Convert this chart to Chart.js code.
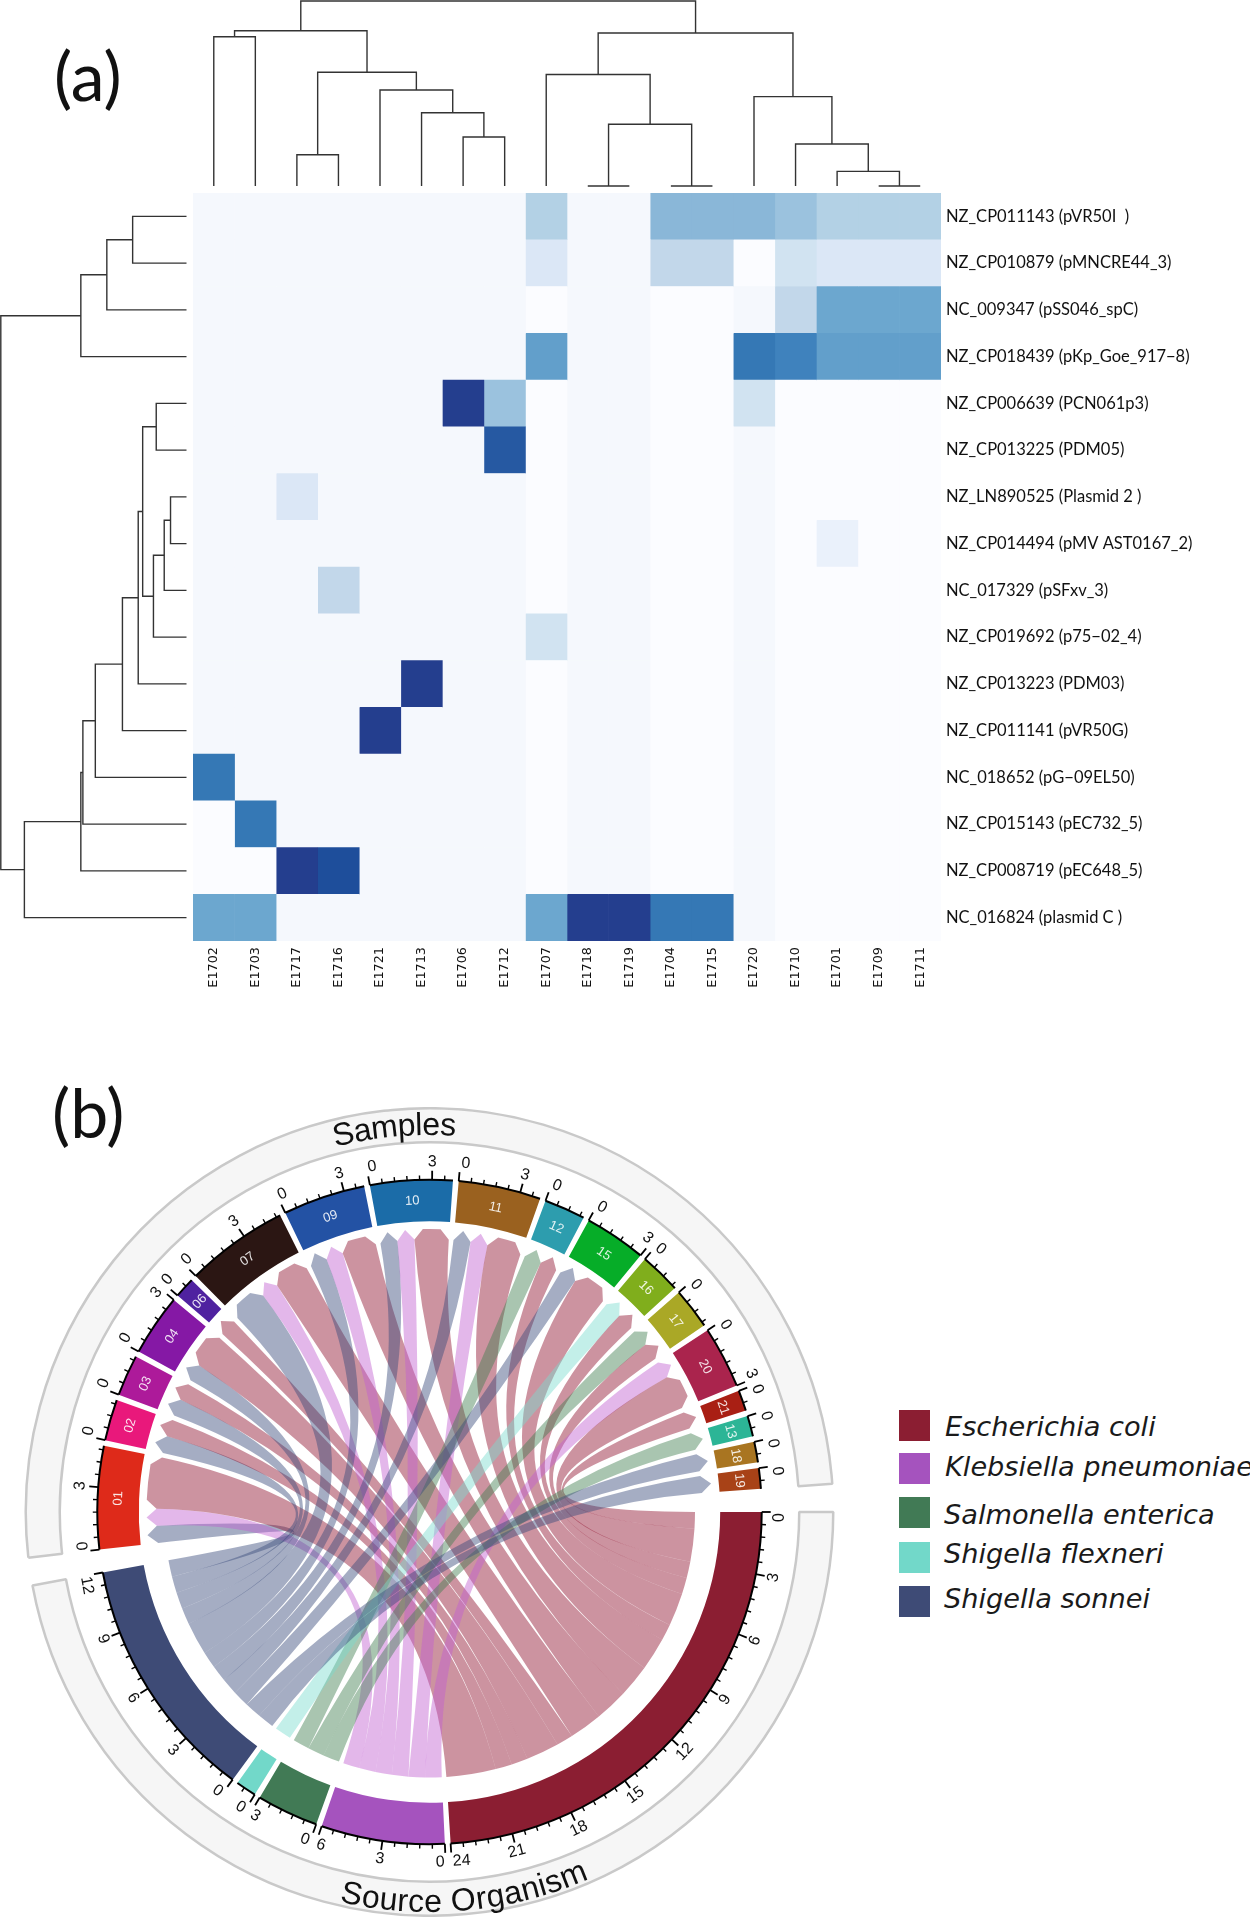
<!DOCTYPE html>
<html>
<head>
<meta charset="utf-8">
<title>Plasmid heatmap and chord diagram</title>
<script src="https://cdn.jsdelivr.net/npm/chart.js@4"></script>
<style>
  html, body { margin: 0; padding: 0; background: #fff; }
  body { position: relative; width: 1250px; height: 1918px; overflow: hidden; }
  canvas { position: absolute; }
  .panel { position: absolute; font-family: Lato, sans-serif; font-size: 68px; line-height: 80px; color: #111; }
  .swatch { position: absolute; left: 899px; width: 31px; height: 31px; }
  .species { position: absolute; font-family: "DejaVu Sans", sans-serif; font-style: italic; font-size: 27.2px; line-height: 30px; color: #1a1a1a; white-space: nowrap; }
</style>
</head>
<body>
<div class="panel" style="left:54px;top:35px">(a)</div>
<div class="panel" style="left:52px;top:1072px">(b)</div>

<canvas id="topTree" width="748" height="188" style="left:193px;top:0"></canvas>
<canvas id="leftTree" width="188" height="748" style="left:0;top:193px"></canvas>
<canvas id="heat" width="1057" height="808" style="left:193px;top:193px"></canvas>
<canvas id="chord" width="859" height="810" style="left:0;top:1107px"></canvas>

<script>
// ---- panel (a) data ----
const columns = ["E1702","E1703","E1717","E1716","E1721","E1713","E1706","E1712","E1707","E1718","E1719","E1704","E1715","E1720","E1710","E1701","E1709","E1711"];
const rows = [
  "NZ_CP011143 (pVR50I  )", "NZ_CP010879 (pMNCRE44_3)", "NC_009347 (pSS046_spC)", "NZ_CP018439 (pKp_Goe_917−8)",
  "NZ_CP006639 (PCN061p3)", "NZ_CP013225 (PDM05)", "NZ_LN890525 (Plasmid 2 )", "NZ_CP014494 (pMV AST0167_2)",
  "NC_017329 (pSFxv_3)", "NZ_CP019692 (p75−02_4)", "NZ_CP013223 (PDM03)", "NZ_CP011141 (pVR50G)",
  "NC_018652 (pG−09EL50)", "NZ_CP015143 (pEC732_5)", "NZ_CP008719 (pEC648_5)", "NC_016824 (plasmid C )"
];
// one line per row, colour level
const heatValues = [
  [1,1,1,1,1,1,1,1,6,1,1,8,8,8,7,6,6,6],
  [1,1,1,1,1,1,1,1,3,1,1,5,5,0,4,3,3,3],
  [1,1,1,1,1,1,1,1,0,1,1,0,0,1,5,9,9,9],
  [1,1,1,1,1,1,1,1,10,1,1,0,0,12,11,10,10,10],
  [1,1,1,1,1,1,15,7,0,1,1,0,0,4,0,0,0,0],
  [1,1,1,1,1,1,1,13,0,1,1,0,0,1,0,0,0,0],
  [1,1,3,1,1,1,1,1,0,1,1,0,0,1,0,0,0,0],
  [1,1,1,1,1,1,1,1,0,1,1,0,0,1,0,2,0,0],
  [1,1,1,5,1,1,1,1,0,1,1,0,0,1,0,0,0,0],
  [1,1,1,1,1,1,1,1,4,1,1,0,0,1,0,0,0,0],
  [1,1,1,1,1,15,1,1,0,1,1,0,0,1,0,0,0,0],
  [1,1,1,1,15,1,1,1,0,1,1,0,0,1,0,0,0,0],
  [12,1,1,1,1,1,1,1,0,1,1,0,0,1,0,0,0,0],
  [0,12,1,1,1,1,1,1,0,1,1,0,0,1,0,0,0,0],
  [0,0,15,14,1,1,1,1,0,1,1,0,0,1,0,0,0,0],
  [9,9,1,1,1,1,1,1,9,15,15,12,12,1,0,0,0,0]
];
const heatPalette = ["#fbfcff","#f5f8fd","#eaf1fb","#dbe7f6","#d1e3f1","#c2d7ea","#b3d1e5","#9bc2de","#8ab7d8","#6ca7cf","#629fcb","#3f82bd","#3578b5","#2659a2","#1e4e9b","#243e8e"];

// merges as [child, child, height]; children below the leaf count are leaves,
// the others refer to an earlier merge
const topMerges = [
  [6,7,.265],[5,18,.396],[4,19,.519],[2,3,.169],[21,20,.615],[0,1,.807],[23,22,.839],
  [9,10,0],[11,12,0],[25,26,.334],[8,27,.603],[16,17,0],[15,29,.079],[14,30,.227],[13,31,.483],
  [28,32,.827],[24,33,1]
];
const leftMerges = [
  [0,1,.29],[16,2,.429],[17,3,.569],[4,5,.163],[6,7,.086],[20,8,.12],[21,9,.178],[19,22,.236],
  [23,10,.26],[24,11,.345],[25,12,.491],[26,13,.558],[27,14,.569],[28,15,.873],[18,29,1]
];

// ---- panel (b) data ----
const sourceNames = ["Escherichia coli","Klebsiella pneumoniae","Salmonella enterica","Shigella flexneri","Shigella sonnei"];
const sourceTotals = [24,6,3,1,12];
const sourceColors = ["#8b1e32","#a553be","#417a55","#72d8c9","#3e4b76"];
const ribbonColors = ["rgba(142,15,44,.45)","rgba(193,95,208,.45)","rgba(64,126,79,.45)","rgba(122,219,206,.45)","rgba(59,77,125,.46)"];

const sampleNames = ["01","02","03","04","06","07","09","10","11","12","15","16","17","20","21","13","18","19"];
const sampleTotals = [5,2,2,3,1,5,4,4,4,2,3,2,2,3,1,1,1,1];
const sampleColors = ["#de2a1a","#e9187b","#ad1a9a","#8518a5","#4f22a0","#2b1613","#2352a4","#1b6ca8","#9a611f","#2d9dae","#06ad28","#80ae1c","#aaa826","#aa244d","#a91f14","#2cb596","#a97521","#a84217"];

// in sample order, clockwise inside each sample
const linkSamples = ["01","01","01","02","02","03","03","04","04","06","07","07","07","09","09","09","10","10","10","11","11","11","12","12","15","15","16","16","17","17","20","20","21","13","18","19"];
const linkSources = [4,1,0,4,0,4,0,4,0,0,4,1,0,4,1,0,4,1,0,4,1,0,2,0,4,0,3,0,2,0,1,0,0,2,4,4];
const linkCounts  = [1,1,3,1,1,1,1,1,2,1,2,1,2,1,1,2,1,1,2,1,1,2,1,1,1,2,1,1,1,1,1,2,1,1,1,1];

const groupTitles = ["Source Organism","Samples"];
const legendBaselines = [1436,1476,1524,1563,1608];

const smallGap = 1 / 3.6;
const bigGap = 4 / 3.6;

// ---- legend ----
sourceNames.forEach((name, i) => {
  const box = document.createElement("div");
  box.className = "swatch";
  box.style.top = (1409.5 + [0,43.7,87.7,132.3,176.5][i]) + "px";
  box.style.background = sourceColors[i];
  document.body.appendChild(box);
  const label = document.createElement("div");
  label.className = "species";
  label.style.left = (i < 2 ? 945 : 944) + "px";
  label.style.top = (legendBaselines[i] - 24.5) + "px";
  label.textContent = name;
  document.body.appendChild(label);
});

// ---- dendrograms ----
function treeSegments(merges, leafCount) {
  const pos = [], height = [];
  for (let i = 0; i < leafCount; i++) { pos[i] = i + .5; height[i] = 0; }
  return merges.map((m, k) => {
    const [a, b, h] = m;
    const id = leafCount + k;
    pos[id] = (pos[a] + pos[b]) / 2;
    height[id] = h;
    return [[pos[a], height[a]], [pos[a], h], [pos[b], h], [pos[b], height[b]]];
  });
}

function treeChart(id, segments, swap, axes) {
  return new Chart(document.getElementById(id), {
    type: "scatter",
    data: {
      datasets: segments.map(seg => ({
        data: seg.map(p => swap ? {x: p[1], y: p[0]} : {x: p[0], y: p[1]}),
        showLine: true,
        clip: false,
        tension: 0,
        pointRadius: 0,
        borderWidth: 1.4,
        borderColor: "#333333"
      }))
    },
    options: {
      responsive: false,
      animation: false,
      events: [],
      layout: {padding: 0},
      plugins: {legend: {display: false}, tooltip: {enabled: false}},
      scales: axes
    }
  });
}

treeChart("topTree", treeSegments(topMerges, columns.length), false, {
  x: {type: "linear", display: false, min: 0, max: columns.length},
  y: {type: "linear", display: false, min: -2 / 185, max: 186 / 185}
});
treeChart("leftTree", treeSegments(leftMerges, rows.length), true, {
  x: {type: "linear", display: false, reverse: true, min: -1.5 / 185.7, max: 186.5 / 185.7},
  y: {type: "linear", display: false, reverse: true, min: 0, max: rows.length}
});

// ---- heatmap: stacked horizontal bars, one dataset per column ----
function noAxisPadding(s) {
  s.paddingTop = 0; s.paddingBottom = 0; s.paddingLeft = 0; s.paddingRight = 0;
}

new Chart(document.getElementById("heat"), {
  type: "bar",
  data: {
    labels: rows,
    datasets: columns.map((c, col) => ({
      label: c,
      data: rows.map(() => 1),
      backgroundColor: rows.map((r, row) => heatPalette[heatValues[row][col]]),
      borderWidth: 0,
      barPercentage: 1,
      categoryPercentage: 1
    }))
  },
  options: {
    indexAxis: "y",
    responsive: false,
    animation: false,
    events: [],
    layout: {padding: 0},
    plugins: {legend: {display: false}, tooltip: {enabled: false}},
    scales: {
      x: {
        type: "linear",
        stacked: true,
        min: 0,
        max: columns.length,
        grid: {display: false, drawTicks: false},
        border: {display: false},
        afterBuildTicks: s => { s.ticks = columns.map((c, i) => ({value: i + .5})); },
        afterFit: s => { s.height = 60; noAxisPadding(s); },
        ticks: {
          autoSkip: false,
          maxRotation: 90,
          minRotation: 90,
          padding: 6,
          color: "#111",
          font: {family: "DejaVu Sans", size: 12.8},
          callback: (v, i) => columns[i]
        }
      },
      y: {
        type: "category",
        position: "right",
        stacked: true,
        grid: {display: false, drawTicks: false},
        border: {display: false},
        afterFit: s => { s.width = 309; noAxisPadding(s); },
        ticks: {
          autoSkip: false,
          padding: 5,
          color: "#111",
          font: {family: "Lato", size: 16.5}
        }
      }
    }
  }
});

// ---- chord diagram: the ring is a doughnut, ribbons hang off its arcs ----
const ringValues = [], ringColors = [], arcIndex = {};
function addGroup(names, totals, colors, prefix) {
  names.forEach((n, i) => {
    arcIndex[prefix + n] = ringValues.length;
    ringValues.push(totals[i]);
    ringColors.push(colors[i]);
    ringValues.push(i < names.length - 1 ? smallGap : bigGap);
    ringColors.push("transparent");
  });
}
addGroup(sourceNames.map((n, i) => i), sourceTotals, sourceColors, "src");
addGroup(sampleNames, sampleTotals, sampleColors, "smp");

const sum = a => a.reduce((x, y) => x + y, 0);
const bandValues = [
  sum(sourceTotals) + (sourceTotals.length - 1) * smallGap, bigGap,
  sum(sampleTotals) + (sampleTotals.length - 1) * smallGap, bigGap
];

const ribbonTipRadius = 283;
const ribbonShoulderRadius = 273;
const ribbonEndRadius = 265.5;
const taper = 1.8 * Math.PI / 180;

function polar(cx, cy, a, r) { return [cx + r * Math.cos(a), cy + r * Math.sin(a)]; }

// control point stays close to the centre, only links crossing almost the
// whole circle drift towards their chord
function ribbonControl(cx, cy, a, b, ra, rb) {
  let dt = Math.abs(a - b);
  if (dt > Math.PI) dt = 2 * Math.PI - dt;
  const lambda = Math.max(.02, .5 * Math.pow(dt / Math.PI, 8));
  const mx = (ra * Math.cos(a) + rb * Math.cos(b)) / 2;
  const my = (ra * Math.sin(a) + rb * Math.sin(b)) / 2;
  return [cx + mx * lambda, cy + my * lambda];
}

function drawRibbon(ctx, cx, cy, a1, a2, b1, b2, color) {
  const t = Math.min(taper, (a2 - a1) / 2);
  ctx.beginPath();
  ctx.moveTo(...polar(cx, cy, a1, ribbonShoulderRadius));
  ctx.lineTo(...polar(cx, cy, a1 + t, ribbonTipRadius));
  ctx.arc(cx, cy, ribbonTipRadius, a1 + t, a2 - t);
  ctx.lineTo(...polar(cx, cy, a2, ribbonShoulderRadius));
  let c = ribbonControl(cx, cy, a2, b1, ribbonShoulderRadius, ribbonEndRadius);
  let p = polar(cx, cy, b1, ribbonEndRadius);
  ctx.quadraticCurveTo(c[0], c[1], p[0], p[1]);
  ctx.arc(cx, cy, ribbonEndRadius, b1, b2);
  c = ribbonControl(cx, cy, b2, a1, ribbonEndRadius, ribbonShoulderRadius);
  p = polar(cx, cy, a1, ribbonShoulderRadius);
  ctx.quadraticCurveTo(c[0], c[1], p[0], p[1]);
  ctx.closePath();
  ctx.fillStyle = color;
  ctx.fill();
}

function drawSectorAxis(ctx, arc, total) {
  const cx = arc.x, cy = arc.y, R = arc.outerRadius;
  const unit = (arc.endAngle - arc.startAngle) / total;
  ctx.strokeStyle = "#000";
  ctx.lineWidth = 2;
  ctx.beginPath();
  ctx.arc(cx, cy, R, arc.startAngle, arc.endAngle);
  ctx.stroke();
  for (let k = 0; k * .6 <= total + 1e-6; k++) {
    const a = arc.startAngle + k * .6 * unit;
    const major = k % 5 === 0;
    ctx.lineWidth = major ? 1.8 : 1.4;
    ctx.beginPath();
    ctx.moveTo(...polar(cx, cy, a, R));
    ctx.lineTo(...polar(cx, cy, a, R + (major ? 9 : 4.5)));
    ctx.stroke();
    if (major) {
      const value = k / 5 * 3;
      const p = polar(cx, cy, a, R + 18);
      const lower = a <= Math.PI;
      ctx.save();
      ctx.translate(p[0], p[1]);
      ctx.rotate(lower ? a - Math.PI / 2 : a + Math.PI / 2);
      ctx.fillStyle = "#111";
      ctx.font = "16px 'Liberation Sans'";
      ctx.textAlign = "center";
      ctx.textBaseline = "middle";
      // labels on a sector's edge sit inside the sector, clear of the neighbour
      const w = ctx.measureText(String(value)).width;
      let shift = 0;
      if (value === 0) shift = w / 2 + 1;
      else if (value === total) shift = -(w / 2 + 1);
      ctx.fillText(String(value), lower ? -shift : shift, 0);
      ctx.restore();
    }
  }
}

function drawArcText(ctx, text, cx, cy, mid, r, topOutward) {
  ctx.save();
  ctx.font = "32px 'Liberation Sans'";
  ctx.fillStyle = "#111";
  ctx.textAlign = "left";
  ctx.textBaseline = "alphabetic";
  const total = ctx.measureText(text).width;
  let run = 0;
  for (const ch of text) {
    const w = ctx.measureText(ch).width;
    const off = (run + w / 2 - total / 2) / r;
    const a = topOutward ? mid + off : mid - off;
    const p = polar(cx, cy, a, r);
    ctx.save();
    ctx.translate(p[0], p[1]);
    ctx.rotate(topOutward ? a + Math.PI / 2 : a - Math.PI / 2);
    ctx.fillText(ch, -w / 2, 11);
    ctx.restore();
    run += w;
  }
  ctx.restore();
}

const chordPlugin = {
  id: "chordPlugin",
  afterDatasetsDraw(chart) {
    const ctx = chart.ctx;
    const arcs = chart.getDatasetMeta(2).data;
    const cx = arcs[0].x, cy = arcs[0].y;
    const sampleUsed = {}, sourceUsed = sourceTotals.slice();

    ctx.save();
    linkSamples.forEach((s, i) => {
      const src = linkSources[i], n = linkCounts[i];
      const smp = arcs[arcIndex["smp" + s]];
      const srcArc = arcs[arcIndex["src" + src]];
      const unitA = (smp.endAngle - smp.startAngle) / sampleTotals[sampleNames.indexOf(s)];
      const unitB = (srcArc.endAngle - srcArc.startAngle) / sourceTotals[src];
      const used = sampleUsed[s] || 0;
      const a1 = smp.startAngle + used * unitA;
      const a2 = a1 + n * unitA;
      sampleUsed[s] = used + n;
      // sources fill from their far end, so samples earlier in the ring land last
      const b2 = srcArc.startAngle + sourceUsed[src] * unitB;
      const b1 = b2 - n * unitB;
      sourceUsed[src] -= n;
      drawRibbon(ctx, cx, cy, a1, a2, b1, b2, ribbonColors[src]);
    });

    sourceTotals.forEach((t, i) => drawSectorAxis(ctx, arcs[arcIndex["src" + i]], t));
    sampleNames.forEach((n, i) => {
      const arc = arcs[arcIndex["smp" + n]];
      drawSectorAxis(ctx, arc, sampleTotals[i]);
      const mid = (arc.startAngle + arc.endAngle) / 2;
      const p = polar(cx, cy, mid, (arc.innerRadius + arc.outerRadius) / 2);
      ctx.save();
      ctx.translate(p[0], p[1]);
      ctx.rotate(mid + Math.PI / 2);
      ctx.fillStyle = "rgba(255,255,255,.88)";
      ctx.font = "13px 'Liberation Sans'";
      ctx.textAlign = "center";
      ctx.textBaseline = "middle";
      ctx.fillText(n, 0, 0);
      ctx.restore();
    });

    const bands = chart.getDatasetMeta(0).data;
    const midOf = a => (a.startAngle + a.endAngle) / 2;
    drawArcText(ctx, groupTitles[0], cx, cy, midOf(bands[0]), 389, false);
    drawArcText(ctx, groupTitles[1], cx, cy, midOf(bands[2]), 388, true);
    ctx.restore();
  }
};

new Chart(document.getElementById("chord"), {
  type: "doughnut",
  data: {
    datasets: [
      {
        data: bandValues,
        weight: 34,
        backgroundColor: ["#f6f6f6","transparent","#f6f6f6","transparent"],
        borderColor: ["#c9c9c9","transparent","#c9c9c9","transparent"],
        borderWidth: [2.5,0,2.5,0]
      },
      {
        data: bandValues,
        weight: 37.5,
        backgroundColor: "transparent",
        borderWidth: 0
      },
      {
        data: ringValues,
        weight: 41.5,
        backgroundColor: ringColors,
        borderWidth: 0
      }
    ]
  },
  options: {
    responsive: false,
    animation: false,
    events: [],
    rotation: 90,
    circumference: 360,
    cutout: "72%",
    layout: {padding: 0},
    plugins: {legend: {display: false}, tooltip: {enabled: false}}
  },
  plugins: [chordPlugin]
});
</script>
</body>
</html>
